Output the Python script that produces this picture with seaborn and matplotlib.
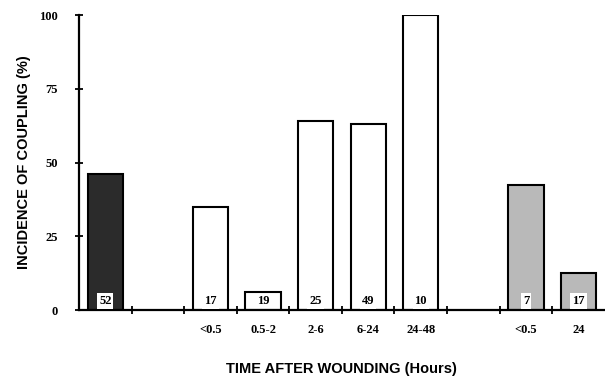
import numpy as np
import pandas as pd
import matplotlib
matplotlib.use("Agg")
import matplotlib.pyplot as plt
import seaborn as sns

# slots along the x axis (gaps are empty slots)
slots = ['ctrl', 'gap1', 'a<0.5', 'a0.5-2', 'a2-6', 'a6-24', 'a24-48', 'gap2', 'b<0.5', 'b24']
slot_labels = ['', '', '<0.5', '0.5-2', '2-6', '6-24', '24-48', '', '<0.5', '24']
incidence = [46, np.nan, 35, 6, 64, 63, 100, np.nan, 42.5, 12.5]
n_cells = ['52', '', '17', '19', '25', '49', '10', '', '7', '17']
fill = ['#2b2b2b', 'white', 'white', 'white', 'white', 'white', 'white', 'white', '#b9b9b9', '#b9b9b9']

df = pd.DataFrame({'slot': slots, 'incidence': incidence})

sns.set_style('white')
plt.rcParams['text.color'] = 'black'
plt.rcParams['axes.labelcolor'] = 'black'
plt.rcParams['xtick.color'] = 'black'
plt.rcParams['ytick.color'] = 'black'
serif = ['Liberation Serif', 'DejaVu Serif']
sans = ['Liberation Sans', 'DejaVu Sans']

fig = plt.figure(figsize=(6.05, 3.92), dpi=100)
ax = fig.add_axes([0.1306, 0.209, 0.869, 0.7526])

sns.barplot(data=df.dropna(), x='slot', y='incidence', order=slots, width=0.67,
            color='white', edgecolor='black', linewidth=1.5, ax=ax)

kept = [s for s, v in zip(slots, incidence) if not np.isnan(v)]
for b, s in zip(ax.patches, kept):
    i = slots.index(s)
    b.set_facecolor(fill[i])
    box = dict(boxstyle='square,pad=0.15', fc='white', ec='none') if incidence[i] > 10 else None
    ax.text(b.get_x() + b.get_width() / 2, 1.0, n_cells[i], ha='center', va='bottom',
            fontsize=9, fontweight='bold', family=serif, color='black', bbox=box)

ax.set_xlim(-0.5, len(slots) - 0.5)
ax.set_ylim(0, 100)
ax.set_yticks([0, 25, 50, 75, 100])
ax.set_yticklabels(['0', '25', '50', '75', '100'], family=serif, fontweight='bold', fontsize=9)
ax.set_xticks(range(len(slots)))
ax.set_xticklabels(slot_labels, family=serif, fontweight='bold', fontsize=9)
ax.set_xticks(np.arange(0.5, len(slots) - 0.5, 1), minor=True)
ax.tick_params(axis='x', which='major', bottom=False, length=0, pad=10)
ax.tick_params(axis='x', which='minor', bottom=True, length=6, width=1.3, direction='inout')
ax.tick_params(axis='y', left=True, length=6, width=1.3, direction='inout', pad=12)

for sp in ['top', 'right']:
    ax.spines[sp].set_visible(False)
for sp in ['left', 'bottom']:
    ax.spines[sp].set_linewidth(1.6)
    ax.spines[sp].set_color('black')

ax.set_xlabel('TIME AFTER WOUNDING (Hours)', family=sans, fontweight='bold', fontsize=10.5, labelpad=19)
ax.set_ylabel('INCIDENCE OF COUPLING (%)', family=sans, fontweight='bold', fontsize=10.5, labelpad=6)

fig.savefig('out.png', dpi=100)
